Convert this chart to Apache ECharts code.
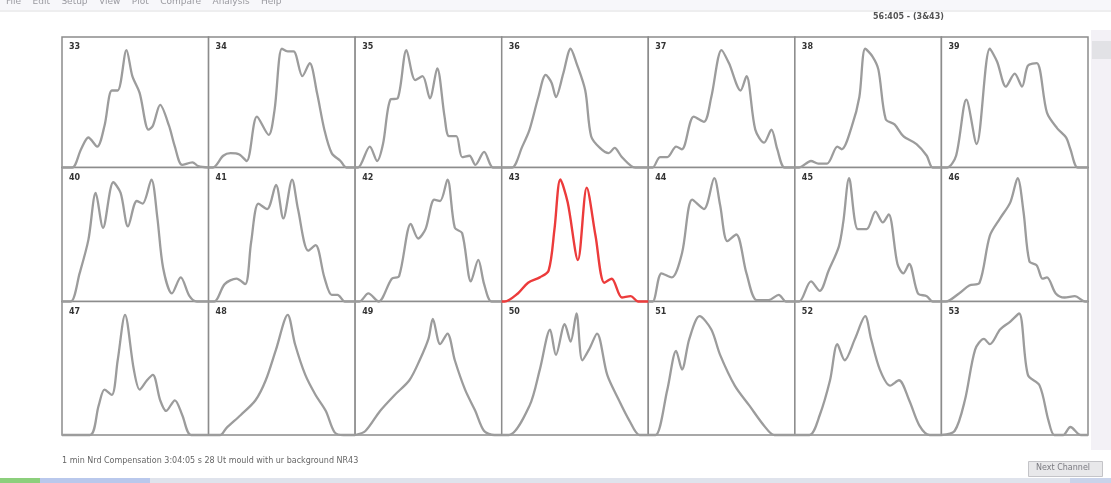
<!DOCTYPE html>
<html>
<head>
<meta charset="utf-8">
<script src="https://cdn.jsdelivr.net/npm/echarts@6/dist/echarts.min.js"></script>
<style>
  html, body { margin: 0; padding: 0; background: #ffffff; }
  #chart { width: 1111px; height: 483px; }
</style>
</head>
<body>
<div id="chart"></div>
<script>
// Channel profiles: [position %, relative intensity %]
const p33 = [[0,0],[7,0],[13,14],[18,23],[24,16],[29,32],[34,59],[38,59],[44,90],[48,70],[53,57],[59,29],[62,32],[67,48],[73,32],[77,16],[82,2],[89,4],[93,1],[100,0]];
const p34 = [[0,0],[3,0],[10,9],[15,11],[21,10],[26,5],[33,39],[41,25],[45,44],[50,91],[54,89],[58,89],[64,70],[69,80],[74,57],[79,29],[84,11],[90,5],[94,0],[100,0]];
const p35 = [[0,0],[2,0],[10,16],[15,5],[19,18],[24,52],[29,53],[35,90],[41,67],[46,70],[51,53],[56,76],[61,39],[64,24],[69,24],[73,8],[78,9],[82,2],[88,12],[94,0],[100,0]];
const p36 = [[0,0],[7,0],[14,16],[19,29],[25,54],[30,71],[34,65],[37,54],[42,72],[47,91],[51,80],[57,59],[61,24],[67,15],[73,11],[77,15],[82,8],[91,0],[100,0]];
const p37 = [[0,0],[3,0],[8,8],[13,8],[19,16],[23,14],[31,39],[38,35],[43,54],[50,90],[55,80],[63,59],[67,70],[73,29],[79,19],[84,29],[88,14],[93,0],[100,0]];
const p38 = [[0,0],[3,0],[11,5],[16,3],[22,3],[29,16],[32,14],[39,32],[44,54],[48,91],[53,85],[57,75],[62,37],[68,33],[74,24],[83,18],[90,9],[94,0],[100,0]];
const p39 = [[0,0],[4,0],[10,9],[17,52],[24,18],[33,91],[38,81],[44,62],[50,72],[55,62],[59,78],[65,80],[72,42],[79,30],[85,23],[88,14],[93,0],[100,0]];
const p40 = [[0,0],[6,0],[12,21],[18,46],[23,81],[28,55],[35,89],[40,81],[45,56],[51,75],[55,73],[61,91],[65,63],[69,25],[75,6],[81,18],[87,4],[92,0],[100,0]];
const p41 = [[0,0],[4,0],[11,13],[19,17],[25,13],[29,44],[34,73],[40,69],[46,87],[51,62],[57,91],[61,69],[68,38],[73,42],[79,18],[84,5],[88,5],[93,0],[100,0]];
const p42 = [[0,0],[3,0],[9,6],[16,0],[25,17],[30,19],[38,58],[43,47],[48,54],[54,76],[58,75],[63,91],[68,55],[73,51],[79,15],[84,31],[88,13],[93,0],[100,0]];
const p43 = [[0,0],[2,0],[11,6],[18,14],[26,18],[32,23],[36,54],[40,91],[45,74],[52,31],[58,85],[64,49],[70,14],[75,17],[82,3],[88,4],[93,0],[100,0]];
const p44 = [[0,0],[3,0],[9,21],[16,18],[23,36],[30,76],[38,69],[45,92],[49,72],[54,45],[60,50],[67,21],[74,1],[82,1],[89,5],[94,0],[100,0]];
const p45 = [[0,0],[3,0],[11,15],[17,8],[23,23],[30,41],[33,59],[37,92],[43,54],[49,54],[55,67],[60,59],[64,65],[70,28],[74,21],[78,28],[84,6],[90,4],[94,0],[100,0]];
const p46 = [[0,0],[3,0],[12,6],[19,12],[26,14],[33,49],[40,62],[47,74],[52,92],[56,67],[60,30],[65,27],[69,17],[72,18],[78,6],[84,3],[91,4],[98,0],[100,0]];
const p47 = [[0,0],[19,0],[25,22],[29,34],[34,30],[38,56],[43,90],[49,49],[53,34],[58,41],[62,45],[67,26],[71,18],[77,26],[82,15],[88,0],[100,0]];
const p48 = [[0,0],[8,0],[12,5],[22,15],[32,26],[39,41],[46,64],[54,90],[59,68],[66,45],[73,30],[80,18],[86,2],[92,0],[100,0]];
const p49 = [[0,0],[7,3],[17,18],[27,30],[37,41],[44,56],[50,72],[53,87],[58,68],[63,76],[68,56],[75,34],[82,18],[88,3],[95,0],[100,0]];
const p50 = [[0,0],[5,0],[19,22],[26,49],[33,79],[37,60],[43,83],[47,70],[51,91],[55,56],[60,65],[65,76],[72,45],[80,26],[87,11],[94,0],[100,0]];
const p51 = [[0,0],[5,0],[13,34],[19,63],[23,49],[28,72],[35,89],[43,79],[49,60],[59,37],[69,22],[79,7],[86,0],[100,0]];
const p52 = [[0,0],[10,0],[17,15],[24,41],[29,68],[34,56],[41,72],[48,89],[52,72],[58,49],[65,37],[71,41],[78,26],[85,7],[92,0],[100,0]];
const p53 = [[0,0],[9,3],[16,26],[23,64],[29,72],[33,68],[40,79],[47,85],[53,91],[59,45],[67,37],[73,11],[77,0],[83,0],[88,6],[95,0],[100,0]];

const channelLabels = ['33','34','35','36','37','38','39','40','41','42','43','44','45','46','47','48','49','50','51','52','53'];
const profiles = [p33,p34,p35,p36,p37,p38,p39,p40,p41,p42,p43,p44,p45,p46,p47,p48,p49,p50,p51,p52,p53];
const selectedChannel = '43';

const menuText = 'File    Edit    Setup    View    Plot    Compare    Analysis    Help';
const headerText = '56:405 - (3&43)';
const statusText = '1 min Nrd Compensation 3:04:05 s 28 Ut mould with ur background NR43';
const buttonText = 'Next Channel';

// Panel layout
const COLS = 7;
const gridLeft = 62, gridRight = 1088;
const cellW = (gridRight - gridLeft) / COLS;
const rowTops = [37, 167.5, 301.5];
const rowHeights = [130.5, 134, 133.5];

const chart = echarts.init(document.getElementById('chart'), null, { renderer: 'canvas' });

const grids = [], xAxes = [], yAxes = [], series = [], graphics = [];

profiles.forEach((data, i) => {
  const col = i % COLS, row = Math.floor(i / COLS);
  const left = gridLeft + col * cellW;
  const top = rowTops[row];
  const isSel = channelLabels[i] === selectedChannel;
  grids.push({
    left: left, top: top, width: cellW, height: rowHeights[row],
    show: true, borderColor: '#8c8c8c', borderWidth: 1.5, backgroundColor: '#ffffff'
  });
  xAxes.push({ type: 'value', gridIndex: i, min: 0, max: 100, show: false });
  yAxes.push({ type: 'value', gridIndex: i, min: 0, max: 100, show: false });
  series.push({
    type: 'line', xAxisIndex: i, yAxisIndex: i, data: data,
    showSymbol: false, smooth: 0.3, clip: false, silent: true,
    lineStyle: { color: isSel ? '#ec3b3b' : '#9c9c9c', width: isSel ? 2.4 : 2.3 },
    z: isSel ? 5 : 3
  });
  graphics.push({
    type: 'text', left: left + 7, top: top + 6, z: 10,
    style: { text: channelLabels[i], font: 'bold 8px "DejaVu Sans", sans-serif', fill: '#333333' }
  });
});

// Window chrome: menu, header, status line, scrollbar, button
graphics.push(
  { type: 'rect', left: 0, top: 0, shape: { width: 1111, height: 10 }, style: { fill: '#f7f7fa' }, z: 0 },
  { type: 'text', left: 6, top: -3, style: { text: menuText, font: '9px "DejaVu Sans", sans-serif', fill: '#9a9aa0' } },
  { type: 'rect', left: 0, top: 10, shape: { width: 1111, height: 2 }, style: { fill: '#eeeeef' } },
  { type: 'text', left: 873, top: 13, style: { text: headerText, font: 'bold 8px "DejaVu Sans", sans-serif', fill: '#555555' } },
  { type: 'rect', left: 1091, top: 30, shape: { width: 20, height: 420 }, style: { fill: '#f3f1f6' } },
  { type: 'rect', left: 1092, top: 41, shape: { width: 19, height: 18 }, style: { fill: '#e2e2e6' } },
  { type: 'text', left: 62, top: 457, style: { text: statusText, font: '8px "DejaVu Sans", sans-serif', fill: '#666666' } },
  { type: 'rect', left: 1028, top: 461, shape: { width: 74, height: 15 }, style: { fill: '#e8e8ea', stroke: '#c4c4c8', lineWidth: 1 } },
  { type: 'text', left: 1036, top: 464, style: { text: buttonText, font: '8px "DejaVu Sans", sans-serif', fill: '#7a7a80' } },
  { type: 'rect', left: 0, top: 478, shape: { width: 1111, height: 5 }, style: { fill: '#dfe3ec' } },
  { type: 'rect', left: 0, top: 478, shape: { width: 40, height: 5 }, style: { fill: '#8ccf7c' } },
  { type: 'rect', left: 40, top: 478, shape: { width: 110, height: 5 }, style: { fill: '#b9c8ec' } },
  { type: 'rect', left: 1070, top: 478, shape: { width: 41, height: 5 }, style: { fill: '#c9d3ea' } }
);

chart.setOption({
  animation: false,
  backgroundColor: '#ffffff',
  grid: grids,
  xAxis: xAxes,
  yAxis: yAxes,
  series: series,
  graphic: graphics
});
</script>
</body>
</html>
